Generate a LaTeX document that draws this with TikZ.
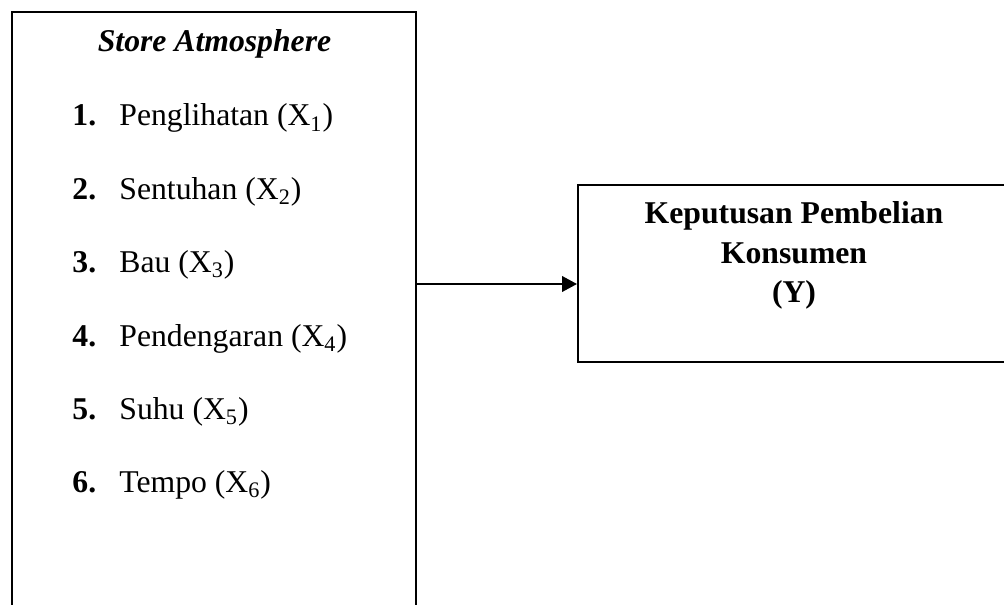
\documentclass[tikz,border=0pt]{standalone}
\usepackage{fontspec}
\setmainfont{Liberation Serif}
\usetikzlibrary{arrows.meta}
\begin{document}
\begin{tikzpicture}[x=0.5pt,y=-0.5pt,
  boxline/.style={draw=black,line width=1pt},
  txt/.style={inner sep=0pt,font=\fontsize{15.85}{19}\selectfont},
  num/.style={txt,anchor=base west,font=\fontsize{15.85}{19}\selectfont\bfseries},
  item/.style={txt,anchor=base west},
  head/.style={txt,anchor=base,font=\fontsize{15.85}{19}\selectfont\bfseries}]
\useasboundingbox (0,0) rectangle (1004,604);
\clip (0,0) rectangle (1004,604);
\node[boxline,minimum width=202pt,minimum height=304pt,inner sep=0pt] (lb) at (214,316) {};
\node[boxline,minimum width=216pt,minimum height=88.5pt,inner sep=0pt] (rb) at (794,273.5) {};
\node[head,font=\fontsize{15.85}{19}\selectfont\bfseries\itshape] (t) at (214.5,52) {Store Atmosphere};
\foreach \n/\s/\y in {1/Penglihatan/126,2/Sentuhan/199.3,3/Bau/272.6,4/Pendengaran/346,5/Suhu/419.2,6/Tempo/492.5}{
  \node[num] (n\n) at (72,\y) {\n.};
  \node[item] (i\n) at (119,\y) {\s\ (X\textsubscript{\n})};
}
\node[head] (y1) at (794,223.5) {Keputusan Pembelian};
\node[head] (y2) at (794,263) {Konsumen};
\node[head] (y3) at (794,302) {(Y)};
\coordinate (a) at (416,284);
\draw[line width=1pt,-{Triangle[length=7.5pt,width=7.8pt]}] (lb.east |- a) -- (rb.west |- a);
\end{tikzpicture}
\end{document}
